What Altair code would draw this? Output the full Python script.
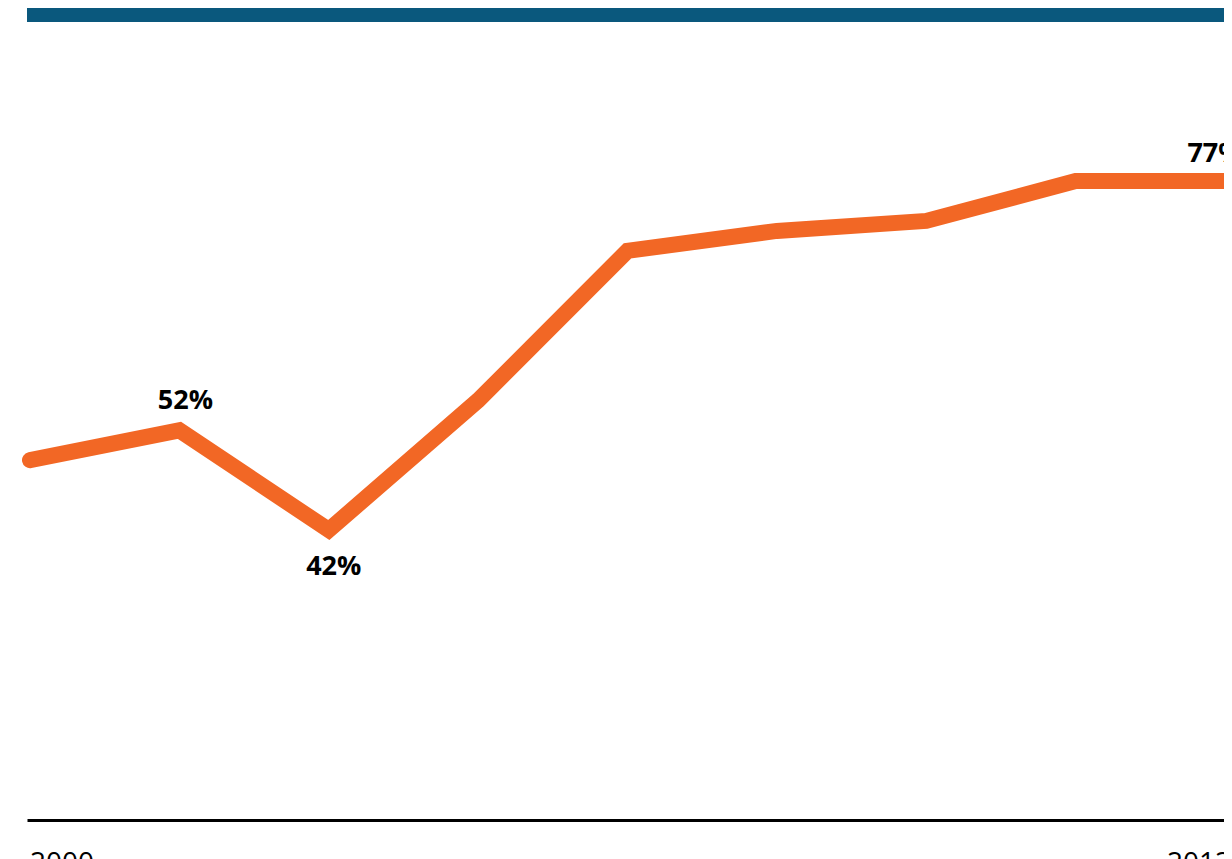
import altair as alt
import pandas as pd

# Survey points (evenly spaced), share of people who recognise the Swan label (%)
point_index = [0, 1, 2, 3, 4, 5, 6, 7, 8]
recognition = [49, 52, 42, 55, 70, 72, 73, 77, 77]

# Value labels shown on the line
label_index = [1, 2, 8]
label_text = ["52%", "42%", "77%"]

# Year labels at the ends of the axis
year_index = [0, 8]
year_text = ["2000", "2012"]

title_text = "HVERSU MARGIR ÞEKKJA SVANSMERKIÐ?"

ORANGE = "#F26725"
BLUE = "#0A587D"
FONT = "Open Sans"

df = pd.DataFrame({"idx": point_index, "pct": recognition})
lab = pd.DataFrame({"idx": label_index, "txt": label_text,
                    "pct": [recognition[i] for i in label_index]})
yrs = pd.DataFrame({"idx": year_index, "txt": year_text})

xscale = alt.Scale(domain=[-0.0201, 7.9933], nice=False, zero=False)
yscale = alt.Scale(domain=[12.91, 94.36], nice=False, zero=False)

x_enc = alt.X("idx:Q", scale=xscale,
              axis=alt.Axis(domainColor="black", domainWidth=3, ticks=False,
                            labels=False, grid=False, title=None))
y_enc = alt.Y("pct:Q", scale=yscale, axis=None)

line = alt.Chart(df).mark_line(color=ORANGE, strokeWidth=16, strokeCap="round",
                               strokeJoin="miter").encode(x=x_enc, y=y_enc)

def value_label(i, dx, dy):
    return alt.Chart(lab).transform_filter(alt.datum.idx == i).mark_text(
        font=FONT, fontSize=27, fontWeight="bold", color="black",
        align="center", baseline="alphabetic", dx=dx, dy=dy
    ).encode(x=alt.X("idx:Q", scale=xscale), y=alt.Y("pct:Q", scale=yscale), text="txt:N")

lab52 = value_label(1, 6, -21)
lab42 = value_label(2, 5, 45)
lab77 = value_label(8, -10, -19)

def year_label(i, align, dx):
    return alt.Chart(yrs).transform_filter(alt.datum.idx == i).mark_text(
        font=FONT, fontSize=28, color="black", align=align,
        baseline="alphabetic", dx=dx
    ).encode(x=alt.X("idx:Q", scale=xscale), y=alt.value(864), text="txt:N")

y0 = year_label(0, "left", 0)
y1 = year_label(8, "right", 6)

bar = alt.Chart(pd.DataFrame({"t": [title_text]})).mark_rect(color=BLUE).encode(
    x=alt.value(0), x2=alt.value(1197), y=alt.value(0), y2=alt.value(14))
title = alt.Chart(pd.DataFrame({"t": [title_text]})).mark_text(
    font=FONT, fontSize=36, fontWeight="bold", color="white", align="left",
    baseline="alphabetic").encode(x=alt.value(10), y=alt.value(-9), text="t:N")

chart = alt.layer(bar, title, line, lab52, lab42, lab77, y0, y1).properties(
    width=1197, height=812,
    autosize=alt.AutoSizeParams(type="none"),
    padding={"left": 19, "top": 0, "right": 0, "bottom": 40},
).configure_view(stroke=None)

chart.save("out.html", embed_options={"renderer": "svg", "actions": False})
